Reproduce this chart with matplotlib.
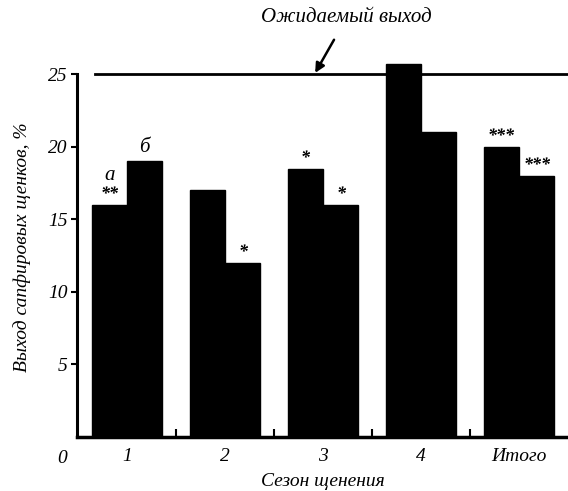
import numpy as np
import matplotlib
matplotlib.use('Agg')
import matplotlib.pyplot as plt

# data
seasons = ['1', '2', '3', '4', 'Итого']
yield_a = [16, 17, 18.5, 25.7, 20]
yield_b = [19, 12, 16, 21, 18]
stars_a = ['**', '', '*', '', '***']
stars_b = ['', '*', '*', '', '***']
expected = 25

plt.rcParams['font.family'] = ['Liberation Serif', 'DejaVu Serif']
plt.rcParams['font.style'] = 'italic'

fig = plt.figure(figsize=(5.68, 4.91), dpi=100)
ax = fig.add_axes([0.1356, 0.110, 0.8644, 0.774])

x = np.arange(1, len(seasons) + 1)
w = 0.36
ax.bar(x - w / 2, yield_a, width=w, color='black', edgecolor='black')
ax.bar(x + w / 2, yield_b, width=w, color='black', edgecolor='black')

# expected yield line
ax.plot([0.67, 5.5], [expected, expected], color='black', lw=2, zorder=1)

# significance marks
for xi, ya, sa in zip(x, yield_a, stars_a):
    if sa:
        ax.text(xi - w / 2, ya + 0.1, sa, ha='center', va='bottom',
                fontsize=13, fontweight='bold')
for xi, yb, sb in zip(x, yield_b, stars_b):
    if sb:
        ax.text(xi + w / 2, yb + 0.1, sb, ha='center', va='bottom',
                fontsize=13, fontweight='bold')

# bar letters for the first season
ax.text(x[0] - w / 2, yield_a[0] + 1.4, 'a', ha='center', va='bottom', fontsize=15)
ax.text(x[0] + w / 2, yield_b[0] + 0.3, 'б', ha='center', va='bottom', fontsize=15)

ax.set_xlim(0.49, 5.5)
ax.set_ylim(0, 26.2)

ax.spines['top'].set_visible(False)
ax.spines['right'].set_visible(False)
ax.spines['left'].set_bounds(0, 25)
ax.spines['left'].set_linewidth(2.2)
ax.spines['bottom'].set_linewidth(2.5)

ax.set_yticks([5, 10, 15, 20, 25])
ax.tick_params(axis='y', direction='out', length=4, width=1.5, labelsize=14, pad=3)
ax.set_xticks(x)
ax.set_xticklabels(seasons)
ax.set_xticks(x[:-1] + 0.5, minor=True)
ax.tick_params(axis='x', which='major', length=0, labelsize=14, pad=8)
ax.tick_params(axis='x', which='minor', direction='in', length=6, width=1.5)

ax.text(-0.02, -0.035, '0', transform=ax.transAxes, ha='right', va='top', fontsize=14)

ax.set_ylabel('Выход сапфировых щенков, %', fontsize=14, labelpad=12)
ax.set_xlabel('Сезон щенения', fontsize=14, labelpad=6)

ax.annotate('Ожидаемый выход', xy=(2.92, 25.1), xytext=(3.24, 28.9),
            ha='center', va='center', fontsize=15, annotation_clip=False,
            arrowprops=dict(arrowstyle='-|>', color='black', lw=1.8,
                            shrinkA=8, shrinkB=0, mutation_scale=14))

fig.savefig('out.png', dpi=100)
